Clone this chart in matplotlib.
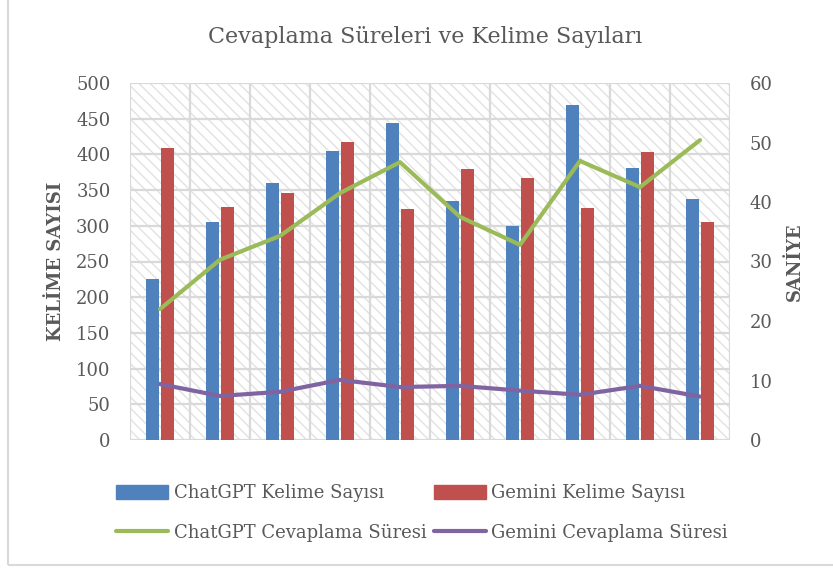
import numpy as np
import matplotlib
matplotlib.use("Agg")
import matplotlib.pyplot as plt
from matplotlib.patches import Rectangle
from matplotlib.lines import Line2D

plt.rcParams['font.family'] = ['DejaVu Serif']
plt.rcParams['hatch.linewidth'] = 1.0

categories = list(range(1, 11))
chatgpt_words = [225, 305, 360, 405, 444, 335, 300, 469, 381, 337]
gemini_words = [409, 326, 346, 417, 324, 380, 367, 325, 403, 305]
chatgpt_time = [22.0, 30.3, 34.3, 41.5, 46.7, 37.5, 32.8, 46.9, 42.5, 50.4]
gemini_time = [9.4, 7.4, 8.1, 10.1, 8.9, 9.1, 8.3, 7.6, 9.1, 7.3]

blue = '#4F81BD'
red = '#C0504D'
green = '#9BBB59'
purple = '#8064A2'
txt = '#595959'
grid = '#D9D9D9'

fig = plt.figure(figsize=(8.33, 5.68), dpi=100)
ax = fig.add_axes([130/833, 1-440/568, 600/833, 357/568])
ax2 = ax.twinx()

# hatched plot area
ax.patch.set_visible(False)
bg = Rectangle((0, 0), 1, 1, transform=ax.transAxes, facecolor='white',
               edgecolor='#E2E2E2', hatch='\\\\\\', linewidth=0, zorder=-5)
ax.add_patch(bg)

x = np.arange(len(categories))
w = 0.22
ax.bar(x - 0.13, chatgpt_words, w, color=blue, zorder=3)
ax.bar(x + 0.13, gemini_words, w, color=red, zorder=3)

ax.set_xlim(-0.5, len(categories) - 0.5)
ax.set_ylim(0, 500)
ax.set_yticks(np.arange(0, 501, 50))
ax.set_xticks([])
for v in np.arange(0, 501, 50):
    ax.axhline(v, color=grid, lw=1.6, zorder=1)
for b in np.arange(-0.5, len(categories), 1):
    ax.axvline(b, color=grid, lw=1.6, zorder=1)

ax2.plot(x, chatgpt_time, color=green, lw=3, solid_capstyle='round', solid_joinstyle='round')
ax2.plot(x, gemini_time, color=purple, lw=3, solid_capstyle='round', solid_joinstyle='round')
ax2.set_ylim(0, 60)
ax2.set_yticks(np.arange(0, 61, 10))

for a in (ax, ax2):
    for s in a.spines.values():
        s.set_visible(False)
    a.tick_params(length=0, labelsize=13, labelcolor=txt, pad=14)

ax.set_ylabel('KELİME SAYISI', fontsize=13, fontweight='bold', color=txt, labelpad=8)
ax2.set_ylabel('SANİYE', fontsize=13, fontweight='bold', color=txt, labelpad=10)

fig.text(425/833, 1-37/568, 'Cevaplama Süreleri ve Kelime Sayıları', ha='center', va='center',
         fontsize=16, color=txt)

handles = [Rectangle((0, 0), 1, 1, color=blue),
           Line2D([0], [0], color=green, lw=3, solid_capstyle='round'),
           Rectangle((0, 0), 1, 1, color=red),
           Line2D([0], [0], color=purple, lw=3, solid_capstyle='round')]
labels = ['ChatGPT Kelime Sayısı', 'ChatGPT Cevaplama Süresi',
          'Gemini Kelime Sayısı', 'Gemini Cevaplama Süresi']
leg = fig.legend(handles, labels, ncol=2, loc='center', bbox_to_anchor=(422/833, 1-513/568),
                 frameon=False, fontsize=13, labelcolor=txt, handlelength=2.9, handleheight=0.8,
                 handletextpad=0.3, columnspacing=0.4, labelspacing=1.2)

fig.patches.append(Rectangle((8/833, 3/568), 1, 1, transform=fig.transFigure, fill=False,
                             edgecolor=grid, lw=1.5))

fig.savefig('out.png', dpi=100)
